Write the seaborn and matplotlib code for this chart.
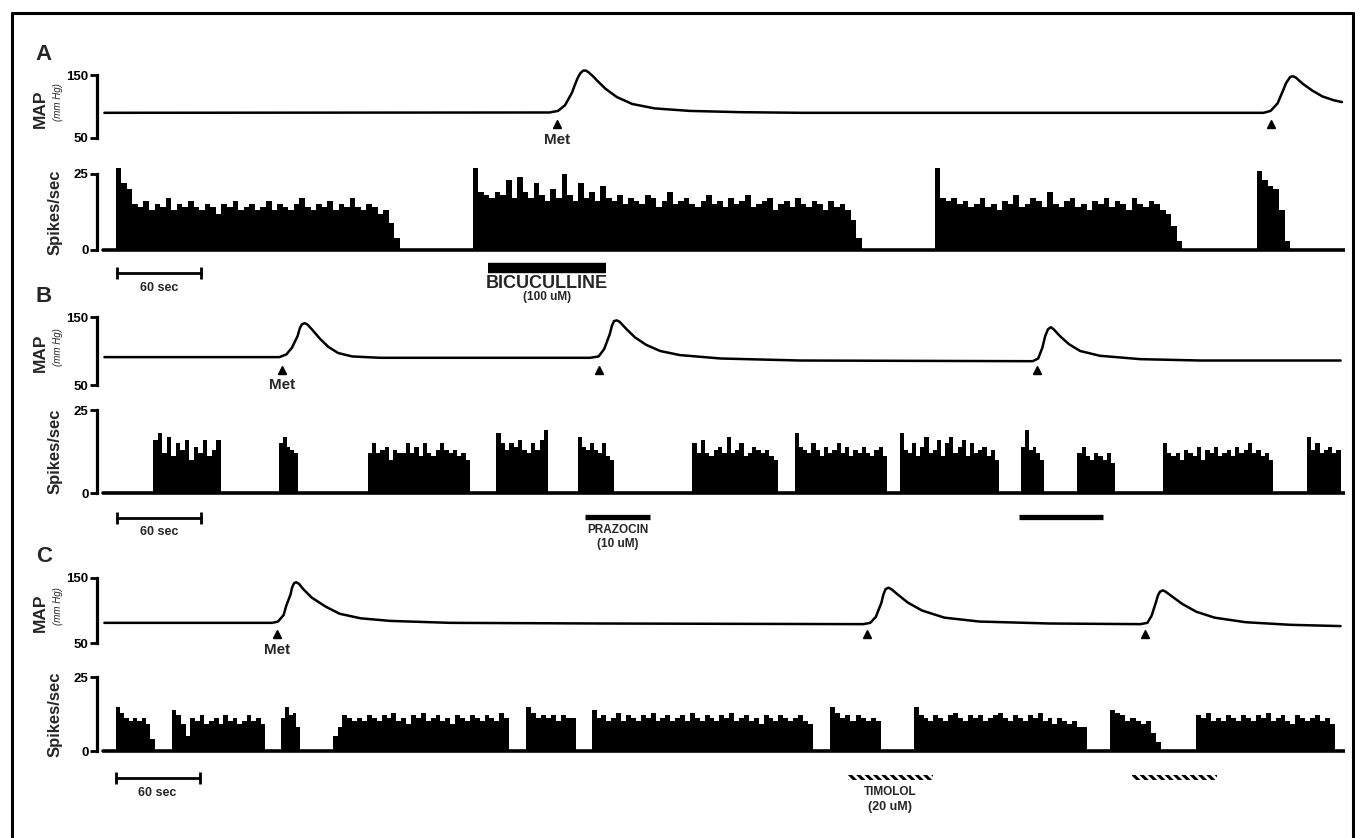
import numpy as np
import pandas as pd
import matplotlib
matplotlib.use('Agg')
import matplotlib.pyplot as plt
from matplotlib.lines import Line2D
from matplotlib.patches import Rectangle
from matplotlib.transforms import blended_transform_factory
import seaborn as sns

sns.set_style('white')
plt.rcParams['font.family'] = ['Liberation Sans', 'DejaVu Sans']
plt.rcParams['hatch.linewidth'] = 2.2

# ---------------- DATA (time in seconds) ----------------
# Panel A
A_map_t = [1, 319, 325, 330, 335, 337, 339, 341, 343, 345, 347, 350, 353, 359, 367, 378, 394, 419, 455, 498,
           829, 834, 839, 843, 845, 848, 850, 852, 857, 864, 871, 879, 885]
A_map_v = [90, 90.5, 93, 102, 122, 134, 145, 153, 157, 157, 154, 148, 141, 128, 115, 104, 97, 93, 91, 90,
           90, 93, 105, 126, 137, 147, 148, 146, 136, 125, 116, 110, 107]
A_bursts = [(9, 212), (264, 542), (594, 771), (824, 848)]
A_burst_vals = [
    [27, 22, 20, 15, 14, 16, 13, 15, 14, 17, 13, 15, 14, 16, 14, 13, 15, 14, 12, 15, 14, 16, 13, 14, 15, 13,
     14, 16, 13, 15, 14, 13, 15, 17, 14, 13, 15, 14, 16, 13, 15, 14, 17, 14, 13, 15, 14, 12, 13, 9, 4],
    [27, 19, 18, 17, 19, 18, 23, 17, 24, 19, 17, 22, 18, 16, 20, 17, 25, 18, 16, 22, 17, 19, 16, 21, 17, 16,
     18, 15, 17, 16, 15, 18, 17, 14, 16, 19, 15, 16, 17, 15, 14, 16, 18, 15, 16, 14, 17, 15, 16, 18, 14, 15,
     16, 17, 13, 15, 16, 14, 17, 15, 14, 16, 15, 13, 16, 14, 15, 13, 10, 4],
    [27, 17, 16, 17, 15, 16, 14, 15, 17, 14, 15, 13, 16, 15, 18, 14, 15, 17, 16, 14, 19, 15, 14, 16, 17, 14,
     15, 13, 16, 15, 17, 14, 16, 15, 13, 17, 15, 14, 16, 15, 13, 12, 8, 3],
    [26, 23, 21, 20, 13, 3],
]
A_met = [324, 834]

# Panel B
B_map_t = [1, 126, 131, 135, 139, 140.5, 142, 144, 146, 150, 155, 161, 168, 178, 198, 348, 354, 358, 362,
           363.5, 365, 367, 369, 374, 380, 388, 398, 412, 441, 498, 664, 668, 671, 673, 675, 677, 679, 684,
           690, 698, 712, 741, 784, 884]
B_map_v = [91, 91, 95, 105, 122, 133, 139, 141, 139, 130, 118, 106, 97, 92, 90, 90, 92, 103, 125,
           137, 144, 145, 143, 132, 120, 109, 100, 94, 89, 86, 85, 89, 105, 122, 132, 135, 132, 121,
           110, 100, 93, 88, 86, 86]
B_bursts = [(36, 84), (126, 139), (189, 262), (281, 318), (339, 365), (421, 482), (494, 560),
            (569, 640), (656, 672), (696, 723), (757, 836), (860, 884)]
B_burst_vals = [
    [16, 18, 12, 17, 11, 15, 13, 16, 10, 14, 12, 16, 11, 13, 16],
    [15, 17, 14, 13, 12],
    [12, 15, 12, 13, 14, 10, 13, 12, 12, 15, 12, 14, 11, 15, 12, 11, 13, 15, 13, 12, 13, 11, 12, 10],
    [18, 15, 13, 15, 14, 16, 13, 12, 15, 13, 16, 19],
    [17, 14, 13, 15, 13, 12, 15, 11, 10],
    [15, 12, 16, 12, 11, 13, 14, 12, 17, 12, 13, 15, 11, 12, 14, 13, 12, 13, 11, 10],
    [18, 14, 13, 12, 15, 13, 11, 14, 12, 13, 15, 12, 14, 11, 13, 12, 14, 12, 11, 13, 14, 11],
    [18, 13, 12, 15, 11, 14, 17, 12, 13, 16, 11, 15, 17, 12, 14, 16, 11, 15, 12, 13, 14, 11, 13, 10],
    [14, 19, 13, 14, 12, 10],
    [12, 14, 11, 10, 12, 11, 10, 12, 9],
    [15, 12, 11, 12, 10, 13, 12, 11, 14, 10, 13, 12, 14, 11, 12, 13, 11, 14, 12, 13, 15, 12, 13, 11, 12, 10],
    [17, 13, 15, 12, 13, 14, 12, 13],
]
B_met = [128, 354, 667]

# Panel C
C_map_t = [1, 121, 125, 129, 131, 134, 135, 136.5, 138, 140, 143, 149, 159, 169, 184, 205, 248, 355, 543,
           548, 552, 556, 557.5, 559, 561, 563, 568, 575, 585, 601, 626, 676, 741, 746, 749, 752, 753.5,
           755, 757, 759, 764, 771, 781, 794, 816, 848, 884]
C_map_v = [81, 81, 83, 93, 108, 125, 135, 142, 143.5, 141, 133, 120, 106, 95, 88, 84, 81, 80, 79,
           81, 90, 112, 125, 133, 135, 133, 124, 112, 100, 89, 83, 80, 79, 81, 92, 112, 123,
           129, 131, 129, 121, 110, 98, 89, 82, 78, 76]
C_bursts = [(9, 37), (49, 116), (127, 141), (164, 290), (302, 338), (349, 507), (519, 556),
            (579, 703), (719, 756), (781, 880)]
C_burst_vals = [
    [15, 13, 11, 10, 11, 10, 11, 9, 4],
    [14, 12, 9, 5, 11, 10, 12, 9, 10, 11, 9, 12, 10, 11, 9, 10, 12, 10, 11, 9],
    [11, 15, 12, 13, 8],
    [5, 8, 12, 11, 10, 11, 10, 12, 11, 10, 12, 11, 13, 10, 11, 9, 12, 11, 13, 10, 11, 12, 10, 11, 9, 12,
     11, 10, 12, 11, 10, 12, 11, 10, 13, 11],
    [15, 13, 11, 12, 11, 12, 10, 12, 11, 11],
    [14, 11, 12, 10, 11, 13, 10, 12, 11, 10, 12, 11, 13, 10, 11, 12, 10, 11, 12, 10, 13, 11, 10, 12, 11,
     10, 12, 11, 13, 10, 11, 12, 10, 11, 9, 12, 11, 10, 12, 11, 10, 11, 12, 10, 9],
    [15, 13, 11, 12, 10, 12, 11, 10, 11, 10],
    [15, 12, 11, 10, 12, 11, 10, 12, 13, 11, 10, 12, 11, 12, 10, 11, 12, 13, 11, 10, 12, 11, 10, 12, 11,
     13, 10, 11, 9, 11, 10, 9, 10, 8, 8],
    [14, 13, 12, 10, 11, 10, 9, 10, 6, 3],
    [12, 11, 13, 10, 11, 10, 12, 11, 10, 12, 11, 10, 12, 11, 13, 10, 11, 12, 10, 9, 12, 11, 10, 11, 12,
     10, 11, 9],
]
C_met = [124, 546, 744]

panel_letters = ['A', 'B', 'C']
map_ticks = [50, 150]
spike_ticks = [0, 25]
scale_bar_start = [10, 10, 9]       # 60-sec scale bar
drug_A = [(275, 359)]               # bicuculline
drug_B = [(344, 391), (654, 714)]   # prazocin
drug_C = [(532, 593), (735, 796)]   # timolol

# ---------------- LAYOUT (pixels) ----------------
W, H = 1367, 838
X0, PXS = 103.0, 1.4
XL, XR = 97, 1345
T_END = 887

layout = [
    dict(map=(75, 138), spk=(174, 250), letter=55, arrow=124, met=140, scale=273, sec=288),
    dict(map=(317, 385), spk=(410, 493), letter=297, arrow=370, met=385, scale=518, sec=532),
    dict(map=(578, 643), spk=(677, 751), letter=557, arrow=634, met=650, scale=778, sec=793),
]

fig = plt.figure(figsize=(W / 100, H / 100), dpi=100)
fig.patch.set_facecolor('white')


def fy(y):
    return 1 - y / H


def make_ax(ytop, ybot, vtop, vbot, padt, padb):
    ppu = (ybot - ytop) / (vtop - vbot)
    tp, bp = ytop - padt, ybot + padb
    ax = fig.add_axes([XL / W, 1 - bp / H, (XR - XL) / W, (bp - tp) / H])
    lims = ((XL - X0) / PXS, (XR - X0) / PXS), (vbot - padb / ppu, vtop + padt / ppu)
    return ax, lims


def style(ax, lims, ticks):
    ax.set_xlim(*lims[0])
    ax.set_ylim(*lims[1])
    ax.patch.set_alpha(0)
    for s in ['top', 'right', 'bottom']:
        ax.spines[s].set_visible(False)
    ax.spines['left'].set_linewidth(2.3)
    ax.spines['left'].set_bounds(ticks[0], ticks[1])
    ax.spines['left'].set_color('black')
    ax.set_xticks([])
    ax.set_yticks(ticks)
    ax.set_yticklabels([str(t) for t in ticks], fontweight='bold', fontsize=9.5)
    ax.tick_params(axis='y', left=True, direction='out', length=5, width=2, pad=1, colors='black')
    ax.set_xlabel('')
    ax.set_ylabel('')


maps = [(A_map_t, A_map_v), (B_map_t, B_map_v), (C_map_t, C_map_v)]
spks = [(A_bursts, A_burst_vals), (B_bursts, B_burst_vals), (C_bursts, C_burst_vals)]
mets = [A_met, B_met, C_met]

spike_axes = []
for i in range(3):
    L = layout[i]
    # ---- MAP trace ----
    axm, limm = make_ax(L['map'][0], L['map'][1], 150, 50, 12, 4)
    df = pd.DataFrame({'t': maps[i][0], 'v': maps[i][1]})
    sns.lineplot(data=df, x='t', y='v', ax=axm, color='black', linewidth=1.8, errorbar=None)
    style(axm, limm, map_ticks)
    btm = blended_transform_factory(axm.transData, fig.transFigure)
    for tm in mets[i]:
        axm.plot([tm], [fy(L['arrow'])], transform=btm, marker='^', ms=5.5, color='black',
                 ls='none', clip_on=False)
    axm.text(mets[i][0], fy(L['met']), 'Met', transform=btm, ha='center', va='center',
             fontsize=11, fontweight='bold')

    # ---- spike-rate histogram ----
    axs, lims = make_ax(L['spk'][0], L['spk'][1], 25, 0, 12, 5)
    edges, centers, weights = [], [], []
    for (s, e), vals in zip(*spks[i]):
        ed = np.linspace(s, e, len(vals) + 1)
        edges.extend(ed)
        centers.extend((ed[:-1] + ed[1:]) / 2)
        weights.extend(vals)
    edges = np.unique(np.round(edges, 6))
    counts, _ = np.histogram(centers, bins=edges, weights=weights)
    axs.stairs(counts, edges, fill=True, color='black', lw=0)
    sns.lineplot(x=[0, T_END], y=[0, 0], ax=axs, color='black', lw=2.6, errorbar=None)
    style(axs, lims, spike_ticks)
    bts = blended_transform_factory(axs.transData, fig.transFigure)
    s0 = scale_bar_start[i]
    axs.plot([s0, s0 + 60], [fy(L['scale'])] * 2, transform=bts, color='black', lw=2,
             clip_on=False)
    axs.plot([s0, s0 + 60], [fy(L['scale'])] * 2, transform=bts, ls='none', marker='|',
             ms=8, mew=2, color='black', clip_on=False)
    axs.text(s0 + 30, fy(L['sec']), '60 sec', transform=bts, ha='center', va='center',
             fontsize=9, fontweight='bold')
    spike_axes.append((axs, bts))

    # ---- labels ----
    cy_map = (L['map'][0] + L['map'][1]) / 2
    cy_spk = (L['spk'][0] + L['spk'][1]) / 2
    fig.text(44 / W, fy(L['letter']), panel_letters[i], ha='center', va='center',
             fontsize=16, fontweight='bold')
    fig.text(40 / W, fy(cy_map + 2), 'MAP', rotation=90, ha='center', va='center',
             fontsize=12.5, fontweight='bold')
    fig.text(58 / W, fy(cy_map - 4), '(mm Hg)', rotation=90, ha='center', va='center',
             fontsize=7, style='italic')
    fig.text(55 / W, fy(cy_spk), 'Spikes/sec', rotation=90, ha='center', va='center',
             fontsize=12, fontweight='bold')

# ---- drug application bars ----
axA, btA = spike_axes[0]
for s, e in drug_A:
    axA.plot([s, e], [fy(268)] * 2, transform=btA, color='black', lw=7.5,
             solid_capstyle='butt', clip_on=False)
axA.text(sum(drug_A[0]) / 2, fy(283), 'BICUCULLINE', transform=btA, ha='center', va='center',
         fontsize=13, fontweight='bold')
axA.text(sum(drug_A[0]) / 2, fy(297), '(100 uM)', transform=btA, ha='center', va='center',
         fontsize=8.5, fontweight='bold')

axB, btB = spike_axes[1]
for s, e in drug_B:
    axB.plot([s, e], [fy(517)] * 2, transform=btB, color='black', lw=3.8,
             solid_capstyle='butt', clip_on=False)
axB.text(sum(drug_B[0]) / 2, fy(530), 'PRAZOCIN', transform=btB, ha='center', va='center',
         fontsize=8.5, fontweight='bold')
axB.text(sum(drug_B[0]) / 2, fy(544), '(10 uM)', transform=btB, ha='center', va='center',
         fontsize=8.5, fontweight='bold')

axC, btC = spike_axes[2]
for s, e in drug_C:
    axC.add_patch(Rectangle((s, fy(780)), e - s, 5 / H, transform=btC, fill=False,
                            hatch='\\\\\\\\', edgecolor='black', linewidth=0, clip_on=False))
axC.text(sum(drug_C[0]) / 2, fy(792), 'TIMOLOL', transform=btC, ha='center', va='center',
         fontsize=8.5, fontweight='bold')
axC.text(sum(drug_C[0]) / 2, fy(807), '(20 uM)', transform=btC, ha='center', va='center',
         fontsize=9, fontweight='bold')

# ---- outer frame ----
fw = 2.2
fig.add_artist(Line2D([12 / W, 1353 / W], [fy(13), fy(13)], color='black', lw=fw))
fig.add_artist(Line2D([12 / W, 12 / W], [fy(13), 0], color='black', lw=fw))
fig.add_artist(Line2D([1353 / W, 1353 / W], [fy(13), 0], color='black', lw=fw))

fig.savefig('out.png', dpi=100, facecolor='white')
